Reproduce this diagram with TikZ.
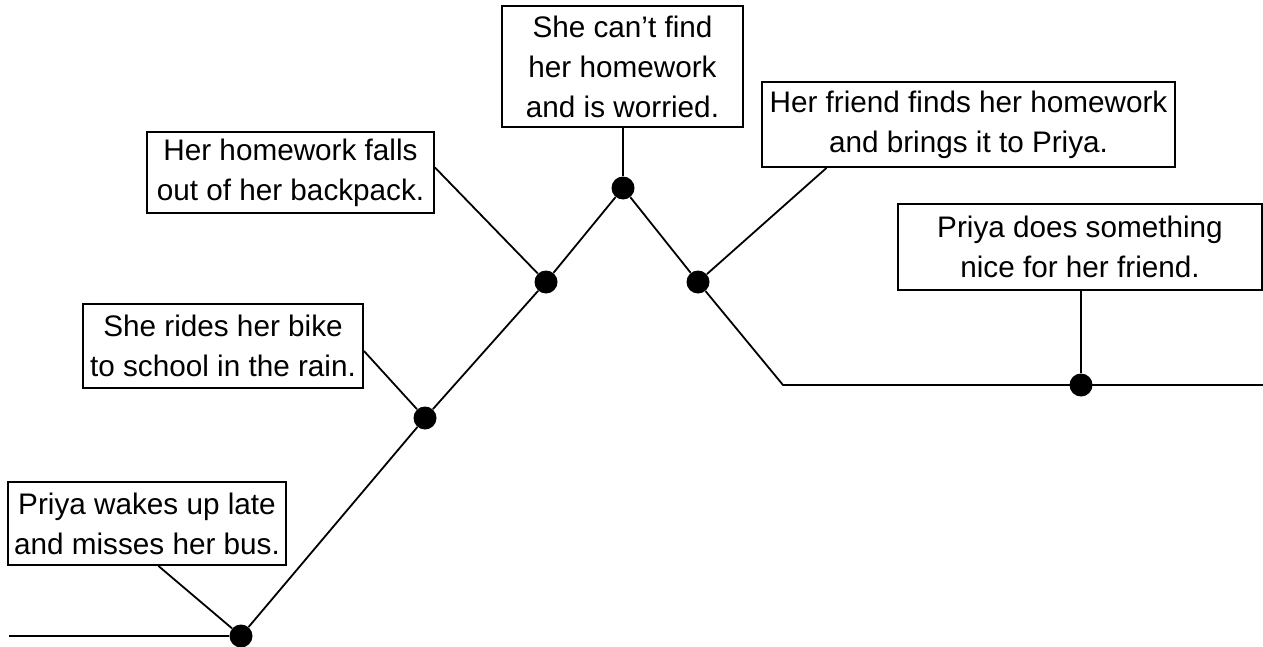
\documentclass[tikz,border=0pt]{standalone}
\usepackage{fontspec}
\setmainfont{Liberation Sans}
\usetikzlibrary{positioning}

\tikzset{
  event/.style={draw, line width=0.9pt, align=center, inner sep=0pt,
    font=\fontsize{14.85}{20}\selectfont},
  dot/.style={circle, fill=black, inner sep=0pt, minimum size=11.5pt},
  plot/.style={line width=0.9pt}
}

\begin{document}
\begin{tikzpicture}[x=0.5pt, y=-0.5pt]
      \useasboundingbox (0,0) rectangle (1263,647);

      % points on the story line
      \node[dot] (d1) at (241,636) {};
      \node[dot] (d2) at (425,418) {};
      \node[dot] (d3) at (546,282) {};
      \node[dot] (d4) at (623,188) {};
      \node[dot] (d5) at (698,282) {};
      \node[dot] (d6) at (1081,385) {};
      \coordinate (start) at (9,636);
      \coordinate (bend) at (783,385);
      \coordinate (end) at (1263,385);

      \draw[plot] (start)--(d1)--(d2)--(d3)--(d4)--(d5)--(bend)--(end);

      % events
      \node[event, minimum width=139pt, minimum height=41.5pt] (wake) at (147,523.5)
        {Priya wakes up late\\and misses her bus.};
      \node[event, minimum width=140pt, minimum height=42pt] (bike) at (223,346)
        {She rides her bike\\to school in the rain.};
      \node[event, minimum width=143.5pt, minimum height=40.5pt] (falls) at (290.5,172.5)
        {Her homework falls\\out of her backpack.};
      \node[event, minimum width=120.5pt, minimum height=60.5pt] (lost) at (622.5,66.5)
        {She can’t find\\her homework\\and is worried.};
      \node[event, minimum width=206.5pt, minimum height=42.5pt] (found) at (968.5,124.5)
        {Her friend finds her homework\\and brings it to Priya.};
      \node[event, minimum width=182pt, minimum height=43pt] (nice) at (1080,247)
        {Priya does something\\nice for her friend.};

      \draw[plot] (wake.-75)--(d1);
      \draw[plot] (bike.-2)--(d2);
      \draw[plot] (falls.2)--(d3);
      \draw[plot] (d4 |- lost.south)--(d4);
      \draw[plot] (found.-163)--(d5);
      \draw[plot] (d6 |- nice.south)--(d6);
\end{tikzpicture}
\end{document}
